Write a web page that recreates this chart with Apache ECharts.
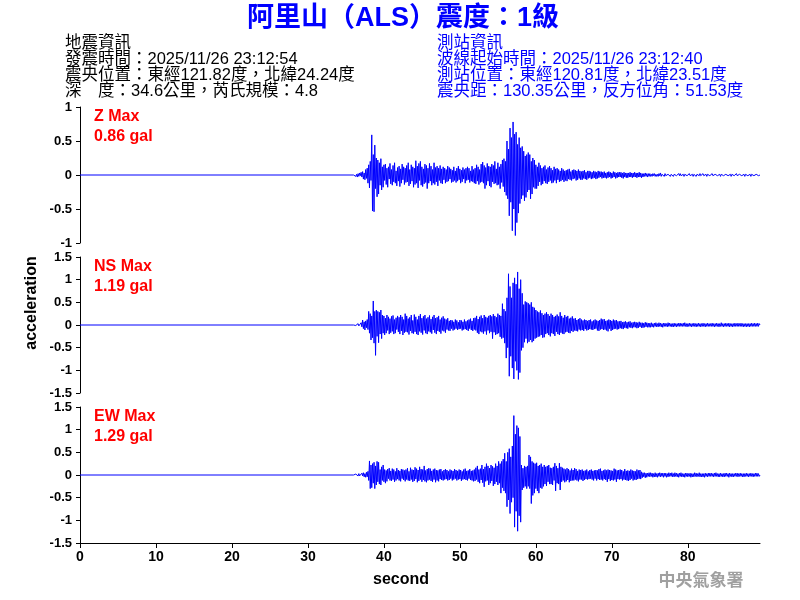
<!DOCTYPE html>
<html>
<head>
<meta charset="utf-8">
<title>阿里山（ALS）震度：1級</title>
<script src="https://cdn.jsdelivr.net/npm/echarts@6/dist/echarts.min.js"></script>
<style>
  html, body { margin: 0; padding: 0; background: #fff; }
  #chart { width: 800px; height: 600px; }
</style>
</head>
<body>
<div id="chart"></div>
<script>
// waveform samples (gal), one row per second, 0.1 s apart
const startTime = 36.0
const step = 0.1
const zValues = [
  0.01, -0.01, 0.02, -0.02, 0.01, -0.03, 0.02, -0.02, 0.03, -0.01,
  0.04, -0.03, 0.05, -0.06, 0.03, -0.07, 0.08, -0.05, 0.1, -0.12,
  0.15, -0.19, 0.2, -0.08, 0.59, -0.53, 0.3, -0.54, 0.44, -0.2,
  0.25, -0.32, 0.22, -0.28, 0.18, -0.15, 0.24, -0.22, 0.12, -0.18,
  0.15, -0.08, 0.16, -0.14, 0.1, -0.18, 0.12, -0.06, 0.17, -0.13,
  0.08, -0.15, 0.14, -0.1, 0.18, -0.12, 0.06, -0.16, 0.11, -0.09,
  0.13, -0.17, 0.09, -0.12, 0.16, -0.07, 0.12, -0.14, 0.1, -0.11,
  0.14, -0.1, 0.18, -0.16, 0.08, -0.13, 0.15, -0.09, 0.12, -0.18,
  0.1, -0.14, 0.21, -0.12, 0.13, -0.19, 0.17, -0.08, 0.2, -0.15,
  0.12, -0.17, 0.09, -0.13, 0.16, -0.11, 0.14, -0.2, 0.1, -0.12,
  0.17, -0.09, 0.13, -0.15, 0.08, -0.12, 0.18, -0.14, 0.11, -0.1,
  0.13, -0.16, 0.1, -0.08, 0.14, -0.12, 0.09, -0.13, 0.12, -0.07,
  0.1, -0.12, 0.08, -0.1, 0.13, -0.09, 0.11, -0.06, 0.09, -0.11,
  0.07, -0.1, 0.12, -0.08, 0.06, -0.11, 0.1, -0.09, 0.13, -0.07,
  0.09, -0.12, 0.07, -0.1, 0.11, -0.06, 0.08, -0.12, 0.1, -0.08,
  0.12, -0.07, 0.1, -0.11, 0.06, -0.09, 0.13, -0.1, 0.08, -0.12,
  0.1, -0.13, 0.15, -0.09, 0.12, -0.14, 0.08, -0.11, 0.16, -0.1,
  0.19, -0.12, 0.14, -0.2, 0.11, -0.15, 0.17, -0.09, 0.13, -0.16,
  0.12, -0.18, 0.16, -0.1, 0.14, -0.13, 0.2, -0.12, 0.09, -0.15,
  0.18, -0.14, 0.12, -0.2, 0.16, -0.11, 0.22, -0.17, 0.24, -0.25,
  0.2, -0.3, 0.5, -0.35, 0.38, -0.6, 0.69, -0.4, 0.55, -0.82,
  0.78, -0.5, 0.6, -0.89, 0.63, -0.7, 0.45, -0.56, 0.55, -0.42,
  0.4, -0.35, 0.42, -0.3, 0.35, -0.38, 0.28, -0.33, 0.3, -0.25,
  0.33, -0.22, 0.3, -0.35, 0.2, -0.28, 0.25, -0.18, 0.22, -0.2,
  0.15, -0.2, 0.12, -0.16, 0.18, -0.1, 0.14, -0.15, 0.1, -0.13,
  0.12, -0.09, 0.14, -0.12, 0.08, -0.13, 0.11, -0.1, 0.13, -0.08,
  0.1, -0.12, 0.07, -0.11, 0.12, -0.08, 0.09, -0.12, 0.1, -0.07,
  0.08, -0.1, 0.06, -0.09, 0.1, -0.07, 0.08, -0.1, 0.06, -0.08,
  0.07, -0.09, 0.08, -0.06, 0.09, -0.07, 0.05, -0.08, 0.07, -0.06,
  0.08, -0.05, 0.07, -0.08, 0.06, -0.07, 0.08, -0.05, 0.06, -0.07,
  0.05, -0.07, 0.06, -0.05, 0.07, -0.06, 0.04, -0.07, 0.06, -0.05,
  0.06, -0.04, 0.05, -0.06, 0.04, -0.05, 0.06, -0.04, 0.05, -0.06,
  0.04, -0.05, 0.06, -0.04, 0.05, -0.03, 0.05, -0.05, 0.04, -0.04,
  0.05, -0.04, 0.03, -0.05, 0.04, -0.04, 0.05, -0.03, 0.04, -0.05,
  0.03, -0.04, 0.05, -0.03, 0.04, -0.05, 0.03, -0.04, 0.04, -0.03,
  0.04, -0.03, 0.04, -0.04, 0.03, -0.05, 0.04, -0.03, 0.03, -0.04,
  0.03, -0.04, 0.03, -0.03, 0.04, -0.03, 0.03, -0.04, 0.03, -0.03,
  0.04, -0.03, 0.03, -0.04, 0.03, -0.03, 0.04, -0.03, 0.03, -0.04,
  0.02, -0.03, 0.02, -0.02, 0.03, -0.02, 0.02, -0.03, 0.02, -0.02,
  0.02, -0.02, 0.01, -0.02, 0.02, -0.01, 0.02, -0.02, 0.01, -0.02,
  0.01, -0.02, 0.02, -0.01, 0.03, -0.02, 0.01, -0.01, 0.02, -0.02,
  0.02, -0.01, 0.01, -0.02, 0.01, -0.01, 0.02, -0.02, 0.01, -0.01,
  0.01, -0.02, 0.01, -0.01, 0.02, -0.01, 0.01, -0.02, 0.02, -0.01,
  0.02, -0.01, 0.01, -0.01, 0.01, -0.02, 0.01, -0.01, 0.02, -0.01,
  0.01, -0.01, 0.02, -0.01, 0.01, -0.01, 0.01, -0.02, 0.01, -0.01,
  0.01, -0.02, 0.01, -0.01, 0.01, -0.01, 0.02, -0.01, 0.01, -0.01,
  0.02, -0.01, 0.01, -0.01, 0.01, -0.02, 0.01, -0.01, 0.01, -0.01,
  0.01, -0.01, 0.02, -0.01, 0.01, -0.01, 0.01, -0.01, 0.02, -0.01,
  0.01, -0.01, 0.01, -0.02, 0.01, -0.01, 0.01, -0.01, 0.01, -0.02,
  0.01, -0.01, 0.02, -0.01, 0.01, -0.01, 0.01, -0.02, 0.01, -0.01,
  0.01, -0.01, 0.01, -0.01, 0.02, -0.01, 0.01, -0.01, 0.01, -0.01,
  0.02, -0.01, 0.01, -0.01, 0.01, -0.02, 0.01, -0.01, 0.01, -0.01,
  0.01, -0.01, 0.01, -0.02, 0.01, -0.01, 0.02, -0.01, 0.01, -0.01,
  0.01, -0.01, 0.01, -0.01, 0.01, 0
]
const nsValues = [
  0.01, -0.01, 0.02, -0.01, 0.01, -0.02, 0.03, -0.02, 0.02, -0.03,
  0.05, -0.04, 0.11, -0.08, 0.07, -0.11, 0.09, -0.06, 0.12, -0.1,
  0.3, -0.18, 0.25, -0.33, 0.2, -0.28, 0.53, -0.4, 0.3, -0.67,
  0.33, -0.25, 0.3, -0.39, 0.28, -0.2, 0.33, -0.3, 0.22, -0.18,
  0.2, -0.22, 0.15, -0.18, 0.22, -0.12, 0.18, -0.2, 0.14, -0.17,
  0.19, -0.14, 0.21, -0.2, 0.12, -0.18, 0.16, -0.1, 0.2, -0.15,
  0.17, -0.2, 0.22, -0.13, 0.18, -0.22, 0.12, -0.17, 0.25, -0.15,
  0.2, -0.16, 0.14, -0.21, 0.17, -0.13, 0.22, -0.18, 0.1, -0.19,
  0.23, -0.15, 0.18, -0.2, 0.12, -0.22, 0.2, -0.14, 0.24, -0.17,
  0.15, -0.21, 0.19, -0.12, 0.22, -0.18, 0.14, -0.2, 0.17, -0.14,
  0.21, -0.16, 0.13, -0.19, 0.18, -0.11, 0.22, -0.17, 0.15, -0.2,
  0.17, -0.13, 0.2, -0.15, 0.12, -0.19, 0.16, -0.12, 0.19, -0.14,
  0.14, -0.17, 0.12, -0.1, 0.15, -0.12, 0.09, -0.13, 0.11, -0.08,
  0.1, -0.12, 0.07, -0.1, 0.12, -0.08, 0.1, -0.11, 0.06, -0.09,
  0.11, -0.08, 0.1, -0.12, 0.07, -0.1, 0.12, -0.09, 0.08, -0.11,
  0.1, -0.13, 0.12, -0.08, 0.14, -0.11, 0.09, -0.13, 0.15, -0.1,
  0.16, -0.12, 0.2, -0.17, 0.13, -0.2, 0.18, -0.14, 0.21, -0.16,
  0.15, -0.19, 0.22, -0.14, 0.18, -0.21, 0.16, -0.12, 0.2, -0.18,
  0.22, -0.15, 0.19, -0.3, 0.24, -0.16, 0.2, -0.22, 0.17, -0.2,
  0.25, -0.18, 0.22, -0.26, 0.2, -0.3, 0.47, -0.28, 0.35, -0.4,
  0.3, -0.73, 0.6, -0.5, 1.13, -1.13, 0.85, -0.69, 0.6, -0.95,
  0.93, -1.19, 1.04, -0.8, 0.9, -1.0, 1.17, -1.2, 0.8, -1.05,
  1.0, -0.56, 0.7, -0.5, 0.45, -0.38, 0.52, -0.3, 0.5, -0.4,
  0.48, -0.37, 0.45, -0.33, 0.5, -0.38, 0.4, -0.35, 0.38, -0.3,
  0.33, -0.28, 0.3, -0.26, 0.28, -0.25, 0.32, -0.22, 0.26, -0.28,
  0.22, -0.27, 0.25, -0.2, 0.28, -0.18, 0.24, -0.22, 0.2, -0.25,
  0.25, -0.18, 0.22, -0.2, 0.18, -0.24, 0.2, -0.15, 0.23, -0.2,
  0.19, -0.22, 0.28, -0.17, 0.2, -0.19, 0.16, -0.2, 0.22, -0.16,
  0.18, -0.15, 0.2, -0.17, 0.14, -0.18, 0.16, -0.13, 0.19, -0.15,
  0.14, -0.12, 0.15, -0.13, 0.11, -0.14, 0.13, -0.1, 0.15, -0.12,
  0.12, -0.11, 0.1, -0.13, 0.12, -0.09, 0.11, -0.12, 0.09, -0.11,
  0.11, -0.09, 0.12, -0.1, 0.08, -0.11, 0.1, -0.09, 0.12, -0.08,
  0.1, -0.12, 0.09, -0.13, 0.11, -0.1, 0.14, -0.09, 0.12, -0.11,
  0.13, -0.1, 0.09, -0.12, 0.1, -0.14, 0.12, -0.08, 0.11, -0.13,
  0.09, -0.11, 0.12, -0.09, 0.1, -0.08, 0.11, -0.1, 0.08, -0.09,
  0.08, -0.07, 0.09, -0.08, 0.06, -0.09, 0.07, -0.06, 0.08, -0.07,
  0.06, -0.08, 0.07, -0.05, 0.08, -0.06, 0.05, -0.07, 0.06, -0.05,
  0.07, -0.05, 0.06, -0.07, 0.05, -0.06, 0.07, -0.04, 0.05, -0.06,
  0.05, -0.06, 0.04, -0.05, 0.06, -0.04, 0.05, -0.05, 0.04, -0.05,
  0.04, -0.05, 0.05, -0.04, 0.03, -0.05, 0.04, -0.03, 0.05, -0.04,
  0.03, -0.04, 0.05, -0.03, 0.04, -0.04, 0.03, -0.05, 0.04, -0.03,
  0.04, -0.03, 0.03, -0.04, 0.05, -0.03, 0.04, -0.03, 0.03, -0.04,
  0.03, -0.04, 0.04, -0.03, 0.03, -0.04, 0.03, -0.03, 0.04, -0.03,
  0.04, -0.03, 0.03, -0.03, 0.04, -0.03, 0.05, -0.03, 0.03, -0.04,
  0.03, -0.03, 0.04, -0.03, 0.03, -0.04, 0.03, -0.03, 0.04, -0.03,
  0.03, -0.04, 0.03, -0.03, 0.04, -0.03, 0.03, -0.04, 0.03, -0.03,
  0.04, -0.03, 0.03, -0.04, 0.03, -0.03, 0.04, -0.03, 0.03, -0.03,
  0.03, -0.03, 0.04, -0.03, 0.03, -0.04, 0.03, -0.03, 0.04, -0.03,
  0.03, -0.04, 0.03, -0.03, 0.05, -0.03, 0.03, -0.04, 0.03, -0.03,
  0.04, -0.03, 0.03, -0.03, 0.04, -0.04, 0.03, -0.03, 0.03, -0.04,
  0.03, -0.03, 0.04, -0.03, 0.03, -0.03, 0.04, -0.03, 0.03, -0.03,
  0.04, -0.03, 0.03, -0.04, 0.03, -0.03, 0.03, -0.04, 0.03, -0.03,
  0.03, -0.04, 0.03, -0.03, 0.04, -0.03, 0.03, -0.03, 0.04, -0.03,
  0.03, -0.03, 0.04, -0.03, 0.03, 0
]
const ewValues = [
  0.0, 0.01, -0.01, 0.02, -0.01, 0.02, -0.02, 0.03, -0.02, 0.02,
  -0.03, 0.04, -0.02, 0.05, -0.04, 0.03, -0.05, 0.06, -0.04, 0.08,
  -0.12, 0.31, -0.3, 0.22, -0.28, 0.25, -0.18, 0.28, -0.3, 0.2,
  -0.22, 0.3, -0.15, 0.28, -0.2, 0.12, -0.22, 0.18, -0.12, 0.22,
  -0.15, 0.12, -0.18, 0.1, -0.14, 0.13, -0.08, 0.15, -0.12, 0.09,
  -0.13, 0.14, -0.1, 0.12, -0.15, 0.08, -0.12, 0.15, -0.09, 0.11,
  -0.12, 0.09, -0.14, 0.13, -0.08, 0.12, -0.11, 0.1, -0.14, 0.12,
  -0.1, 0.15, -0.12, 0.08, -0.13, 0.16, -0.1, 0.12, -0.15, 0.11,
  -0.13, 0.17, -0.09, 0.14, -0.16, 0.11, -0.13, 0.18, -0.1, 0.13,
  -0.15, 0.12, -0.11, 0.2, -0.14, 0.1, -0.16, 0.13, -0.12, 0.15,
  -0.1, 0.14, -0.13, 0.09, -0.15, 0.12, -0.1, 0.14, -0.16, 0.11,
  -0.12, 0.1, -0.14, 0.12, -0.09, 0.13, -0.11, 0.08, -0.12, 0.11,
  -0.1, 0.13, -0.09, 0.11, -0.12, 0.08, -0.11, 0.12, -0.08, 0.1,
  -0.12, 0.09, -0.1, 0.13, -0.08, 0.11, -0.12, 0.09, -0.1, 0.12,
  -0.09, 0.11, -0.13, 0.08, -0.1, 0.12, -0.09, 0.14, -0.11, 0.09,
  -0.12, 0.1, -0.08, 0.13, -0.11, 0.09, -0.12, 0.1, -0.14, 0.12,
  -0.13, 0.16, -0.1, 0.2, -0.15, 0.12, -0.18, 0.14, -0.11, 0.22,
  -0.17, 0.13, -0.26, 0.18, -0.14, 0.25, -0.12, 0.2, -0.22, 0.15,
  -0.18, 0.22, -0.13, 0.19, -0.24, 0.16, -0.2, 0.25, -0.15, 0.2,
  -0.22, 0.3, -0.18, 0.25, -0.4, 0.3, -0.28, 0.35, -0.35, 0.48,
  -0.4, 0.3, -0.7, 0.5, -0.55, 0.58, -0.85, 0.4, -0.6, 0.64,
  -0.5, 1.31, -1.15, 0.9, -0.8, 1.09, -1.24, 1.04, -0.9, 0.85,
  -1.04, 0.22, -0.33, 0.15, -0.28, 0.2, -0.25, 0.18, -0.3, 0.2,
  -0.25, 0.44, -0.3, 0.4, -0.63, 0.3, -0.45, 0.27, -0.4, 0.25,
  -0.3, 0.27, -0.35, 0.2, -0.4, 0.22, -0.28, 0.25, -0.3, 0.18,
  -0.25, 0.22, -0.2, 0.18, -0.24, 0.2, -0.15, 0.22, -0.2, 0.16,
  -0.2, 0.15, -0.22, 0.18, -0.12, 0.26, -0.35, 0.2, -0.18, 0.15,
  -0.2, 0.26, -0.33, 0.18, -0.15, 0.16, -0.12, 0.14, -0.16, 0.12,
  -0.14, 0.15, -0.11, 0.13, -0.16, 0.1, -0.13, 0.14, -0.12, 0.11,
  -0.12, 0.15, -0.1, 0.13, -0.12, 0.09, -0.14, 0.12, -0.1, 0.11,
  -0.1, 0.12, -0.13, 0.09, -0.11, 0.1, -0.09, 0.12, -0.1, 0.08,
  -0.09, 0.11, -0.08, 0.12, -0.1, 0.09, -0.12, 0.1, -0.08, 0.11,
  -0.12, 0.1, -0.09, 0.13, -0.11, 0.14, -0.1, 0.09, -0.12, 0.1,
  -0.09, 0.12, -0.11, 0.1, -0.15, 0.12, -0.09, 0.11, -0.13, 0.1,
  -0.11, 0.09, -0.12, 0.14, -0.1, 0.12, -0.15, 0.1, -0.09, 0.11,
  -0.1, 0.12, -0.09, 0.11, -0.12, 0.08, -0.1, 0.13, -0.11, 0.09,
  -0.12, 0.1, -0.13, 0.09, -0.11, 0.12, -0.08, 0.1, -0.12, 0.09,
  -0.1, 0.08, -0.11, 0.12, -0.09, 0.1, -0.08, 0.11, -0.09, 0.07,
  -0.06, 0.05, -0.04, 0.05, -0.06, 0.04, -0.05, 0.04, -0.03, 0.05,
  -0.04, 0.05, -0.03, 0.04, -0.05, 0.03, -0.04, 0.05, -0.04, 0.03,
  -0.05, 0.04, -0.03, 0.05, -0.04, 0.04, -0.03, 0.04, -0.05, 0.04,
  -0.03, 0.04, -0.05, 0.03, -0.04, 0.05, -0.03, 0.04, -0.03, 0.05,
  -0.04, 0.03, -0.04, 0.05, -0.03, 0.04, -0.04, 0.03, -0.05, 0.04,
  -0.03, 0.05, -0.04, 0.03, -0.04, 0.03, -0.05, 0.04, -0.03, 0.04,
  -0.04, 0.03, -0.03, 0.04, -0.05, 0.03, -0.04, 0.03, -0.04, 0.05,
  -0.03, 0.04, -0.04, 0.03, -0.03, 0.05, -0.04, 0.03, -0.04, 0.03,
  -0.04, 0.03, -0.05, 0.04, -0.03, 0.03, -0.04, 0.04, -0.03, 0.04,
  -0.03, 0.04, -0.03, 0.03, -0.04, 0.04, -0.03, 0.05, -0.03, 0.03,
  -0.04, 0.03, -0.04, 0.04, -0.03, 0.03, -0.04, 0.03, -0.04, 0.04,
  -0.03, 0.04, -0.03, 0.03, -0.05, 0.04, -0.03, 0.03, -0.04, 0.03,
  -0.04, 0.03, -0.03, 0.04, -0.03, 0.04, -0.04, 0.03, -0.03, 0.04,
  -0.03, 0.03, -0.04, 0.03, -0.04, 0.03, -0.03, 0.04, -0.03, 0.03,
  -0.04, 0.03, -0.03, 0.04, -0.03, 0.03, -0.04, 0.03, -0.03, 0.04,
  -0.03, 0.04, -0.03, 0.03, -0.03, 0
]

const channels = ['Z', 'NS', 'EW']
const maxGal = ['0.86 gal', '1.19 gal', '1.29 gal']
const yLimits = [1, 1.5, 1.5]
const xMax = 89.5

const titleText = '阿里山（ALS）震度：1級'
const quakeInfo = [
  '地震資訊',
  '發震時間：2025/11/26 23:12:54',
  '震央位置：東經121.82度，北緯24.24度',
  '深　度：34.6公里，芮氏規模：4.8'
]
const stationInfo = [
  '測站資訊',
  '波線起始時間：2025/11/26 23:12:40',
  '測站位置：東經120.81度，北緯23.51度',
  '震央距：130.35公里，反方位角：51.53度'
]

const FONT = '"Liberation Sans", Arial, "Noto Sans CJK TC", sans-serif'
const BLUE = '#0000ff'

const toSeries = (values) => {
  const pts = [[0, 0], [startTime, 0]]
  values.forEach((v, i) => pts.push([+(startTime + i * step).toFixed(2), v]))
  return pts
}
const waves = [zValues, nsValues, ewValues].map(toSeries)

const chart = echarts.init(document.getElementById('chart'))

const panelTop = [107, 257, 407]
const panelHeight = 136

const grid = panelTop.map(top => ({
  left: 80, width: 680, top: top, height: panelHeight,
  containLabel: false, outerBoundsMode: 'none'
}))

const xAxis = panelTop.map((_, i) => {
  const last = i === panelTop.length - 1
  return {
    type: 'value', gridIndex: i, min: 0, max: xMax, interval: 10,
    axisLine: { show: last, onZero: false, lineStyle: { color: '#000', width: 1 } },
    axisTick: { show: last, length: 5, lineStyle: { color: '#000' } },
    axisLabel: {
      show: last, color: '#000', fontWeight: 'bold', fontSize: 14,
      fontFamily: FONT, margin: 7, showMaxLabel: false
    },
    splitLine: { show: false }
  }
})

const yAxis = yLimits.map((lim, i) => ({
  type: 'value', gridIndex: i, min: -lim, max: lim, interval: 0.5,
  axisLine: { show: true, onZero: false, lineStyle: { color: '#000', width: 1 } },
  axisTick: { show: true, length: 4, lineStyle: { color: '#000' } },
  axisLabel: {
    color: '#000', fontWeight: 'bold', fontSize: 13, fontFamily: FONT, margin: 8
  },
  splitLine: { show: false }
}))

const series = waves.map((data, i) => ({
  type: 'line', xAxisIndex: i, yAxisIndex: i, data: data,
  showSymbol: false, symbol: 'none', sampling: null,
  lineStyle: { color: BLUE, width: 1 },
  silent: true, animation: false
}))

const graphic = []
graphic.push({
  type: 'text', x: 403, y: 19,
  style: {
    text: titleText, fill: BLUE, font: 'bold 27px ' + FONT,
    align: 'center', verticalAlign: 'middle'
  }
})
quakeInfo.forEach((t, i) => graphic.push({
  type: 'text', x: 65, y: 43 + i * 16,
  style: { text: t, fill: '#000', font: '16.5px ' + FONT, align: 'left', verticalAlign: 'middle' }
}))
stationInfo.forEach((t, i) => graphic.push({
  type: 'text', x: 437, y: 43 + i * 16,
  style: { text: t, fill: BLUE, font: '16.5px ' + FONT, align: 'left', verticalAlign: 'middle' }
}))
channels.forEach((c, i) => {
  graphic.push({
    type: 'text', x: 94, y: panelTop[i] + 10,
    style: { text: c + ' Max', fill: '#ff0000', font: 'bold 16px ' + FONT, align: 'left', verticalAlign: 'middle' }
  })
  graphic.push({
    type: 'text', x: 94, y: panelTop[i] + 30,
    style: { text: maxGal[i], fill: '#ff0000', font: 'bold 16px ' + FONT, align: 'left', verticalAlign: 'middle' }
  })
})
graphic.push({
  type: 'text', x: 32, y: 303, rotation: Math.PI / 2,
  style: { text: 'acceleration', fill: '#000', font: 'bold 16px ' + FONT, align: 'center', verticalAlign: 'middle' }
})
graphic.push({
  type: 'text', x: 401, y: 580,
  style: { text: 'second', fill: '#000', font: 'bold 16px ' + FONT, align: 'center', verticalAlign: 'middle' }
})
graphic.push({
  type: 'text', x: 701, y: 580,
  style: { text: '中央氣象署', fill: '#a0a0a0', font: 'bold 17px "Noto Sans CJK TC", sans-serif', align: 'center', verticalAlign: 'middle' }
})

chart.setOption({
  backgroundColor: '#fff',
  animation: false,
  grid: grid,
  xAxis: xAxis,
  yAxis: yAxis,
  series: series,
  graphic: graphic
})

window.addEventListener('resize', () => chart.resize())
</script>
</body>
</html>
